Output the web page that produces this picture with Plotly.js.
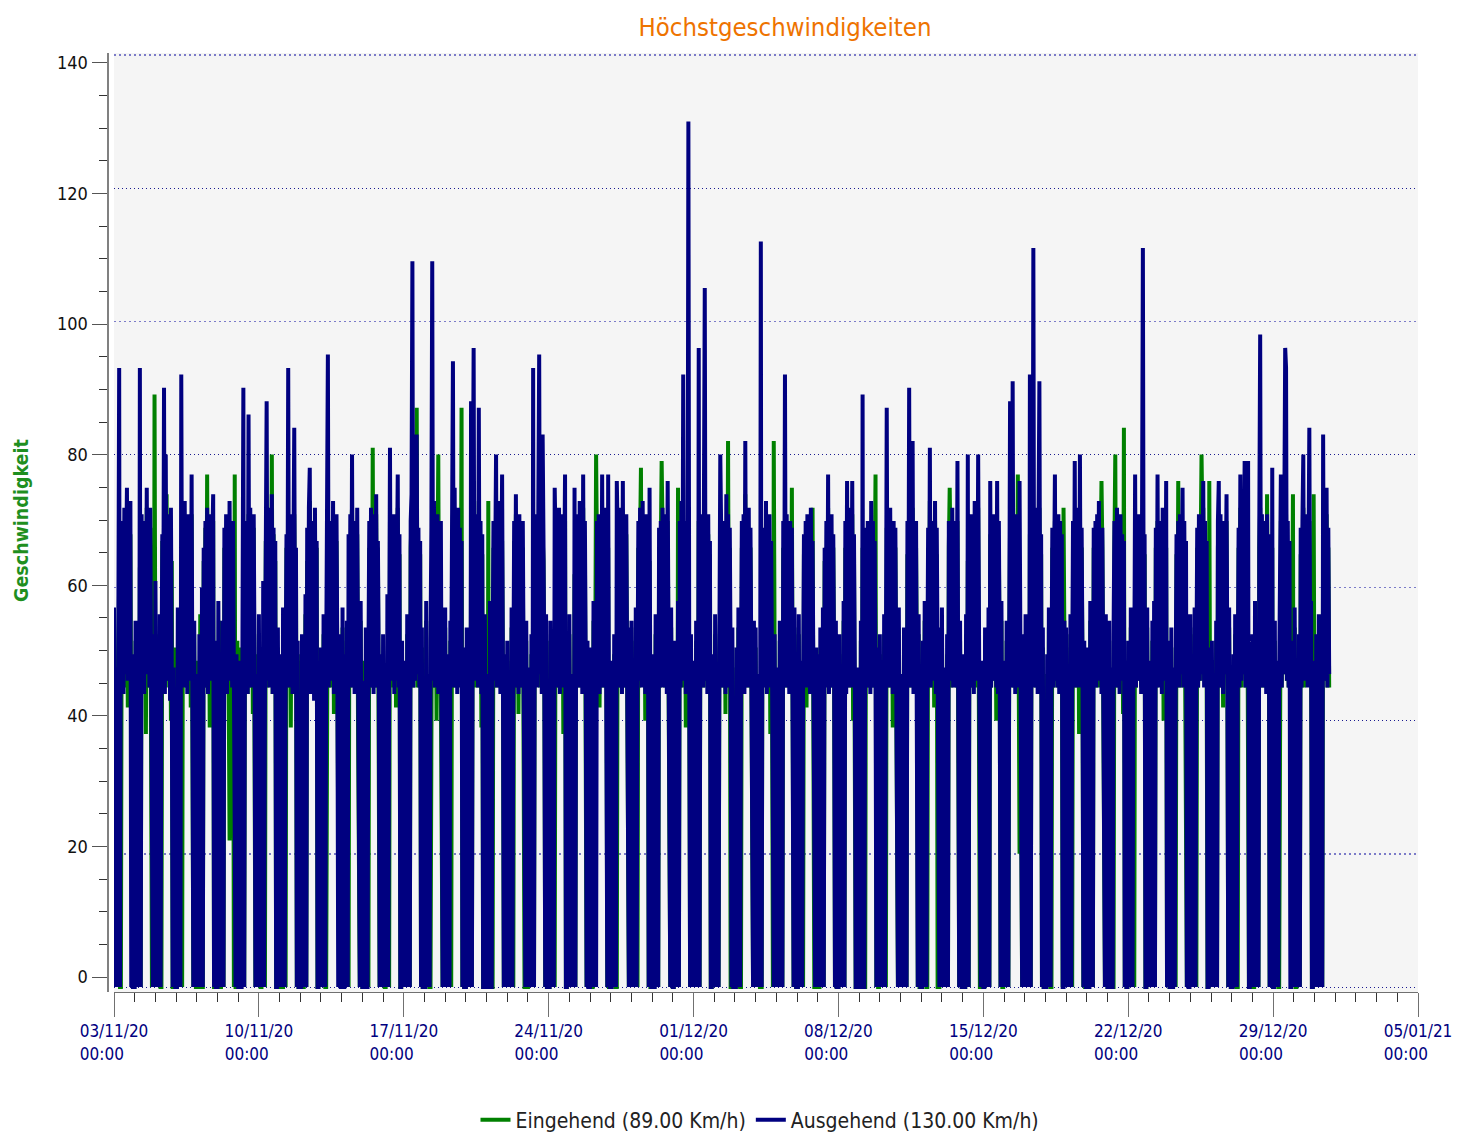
<!DOCTYPE html>
<html><head><meta charset="utf-8">
<script src="https://cdn.plot.ly/plotly-3.0.1.min.js"></script>
<style>html,body{margin:0;padding:0;background:#fff}#chart{width:1459px;height:1133px}</style>
</head><body><div id="chart"></div>
<script>
// Hourly maximum speeds, one row per day starting 03/11/20 00:00 (values in Km/h)
const startDay = '2020-11-03';
const eingehendByDay = [
[55,0,0,46,0,50,61,0,0,66,46,68,45,67,47,70,42,66,46,68,0,0,47,0],
[0,52,0,0,45,0,63,0,66,46,68,47,70,38,72,46,67,45,69,47,0,54,0,89],
[0,0,48,0,53,0,0,0,67,47,70,45,66,74,46,68,45,69,40,64,0,0,51,0],
[50,0,0,55,0,0,65,0,68,46,70,47,66,45,67,46,68,42,71,0,0,53,0,0],
[0,49,0,0,56,0,0,0,64,46,69,45,77,47,66,39,68,46,65,70,0,0,48,0],
[0,0,55,0,0,48,0,0,66,47,68,45,67,46,22,47,66,45,69,0,77,0,0,52],
[0,47,0,51,0,0,63,0,65,46,67,44,71,47,68,45,66,41,69,0,0,50,0,0],
[53,0,0,0,46,0,58,0,67,65,45,67,47,66,46,80,44,68,47,64,0,0,51,0],
[0,0,48,0,0,54,0,0,66,47,68,45,67,39,69,46,66,71,46,65,0,49,0,0],
[0,50,0,0,0,45,56,0,64,46,66,73,45,67,47,68,45,69,46,66,0,0,46,0],
[48,0,0,53,0,0,0,66,70,46,67,45,66,47,70,41,68,47,67,46,0,0,50,0],
[0,54,0,0,47,0,52,0,0,66,45,68,72,46,67,45,66,47,68,38,0,0,55,0],
[0,0,0,49,0,51,0,0,66,46,69,45,81,47,67,45,71,46,66,0,0,47,0,0],
[50,0,0,0,45,0,56,0,70,46,67,45,68,47,66,42,68,72,46,65,0,0,49,0],
[0,46,0,0,53,0,48,0,66,70,66,45,67,46,68,87,45,67,47,65,0,51,0,0],
[0,0,55,0,44,0,0,0,67,72,46,70,45,67,40,69,80,46,66,45,0,0,45,0],
[54,0,0,47,0,0,52,0,66,71,45,72,47,67,45,69,46,66,47,87,0,48,0,0],
[0,51,0,0,46,0,66,0,67,70,46,68,45,66,47,73,45,67,39,65,0,0,53,0],
[0,0,73,0,55,0,0,0,66,46,67,70,45,68,47,70,45,66,67,46,0,47,0,0],
[49,0,0,43,0,54,0,0,67,45,71,47,66,41,68,46,67,45,66,0,0,0,52,0],
[0,45,0,0,50,0,66,0,65,46,68,47,67,71,45,66,46,68,64,47,0,53,0,0],
[0,0,52,0,0,46,0,0,64,45,66,46,68,45,67,47,66,38,64,70,0,0,48,0],
[53,0,0,44,0,0,62,0,66,46,67,45,70,47,66,45,72,46,67,0,0,49,0,0],
[0,48,0,0,55,0,48,80,66,46,68,42,67,47,71,45,65,46,67,47,0,66,0,0],
[0,0,46,0,50,0,0,0,64,45,67,47,69,45,70,46,66,45,68,46,0,0,51,0],
[52,0,0,45,0,54,0,0,66,45,67,78,46,70,47,66,40,68,46,65,0,64,0,0],
[0,47,0,0,53,0,50,0,66,45,66,79,69,46,67,45,65,47,70,46,0,0,54,0],
[0,0,49,0,48,0,75,0,66,46,70,45,66,47,67,39,67,46,72,47,0,50,0,0],
[46,0,0,52,0,0,70,0,65,47,67,45,69,72,46,66,45,68,47,65,0,0,47,0],
[0,53,0,0,45,0,50,66,67,45,67,47,66,41,70,46,82,45,66,0,0,51,0,0],
[0,0,48,0,54,0,0,0,66,46,68,45,74,47,66,45,69,46,66,47,0,0,52,0],
[51,0,0,44,0,0,0,0,66,46,65,47,70,45,67,46,67,38,65,47,0,82,50,0],
[0,45,0,0,52,0,48,0,66,47,70,45,68,46,66,45,66,46,75,45,0,54,0,0],
[0,0,53,0,0,46,0,0,65,46,66,42,67,47,66,45,69,46,72,0,0,0,48,0],
[47,0,0,51,0,0,54,0,64,46,66,47,72,45,67,46,68,45,66,47,0,52,0,0],
[0,50,0,0,44,0,55,0,66,45,70,46,65,45,69,47,71,40,66,0,0,0,45,0],
[0,0,52,0,66,0,0,0,66,45,67,47,66,45,70,45,65,46,66,77,0,48,0,0],
[50,0,0,46,0,53,0,0,69,46,66,45,69,47,66,39,67,46,66,45,0,0,54,0],
[0,44,0,0,51,0,48,0,65,46,70,45,68,47,72,45,66,46,66,47,0,53,0,0],
[0,0,49,0,55,0,0,0,66,46,73,45,67,47,66,42,70,46,65,0,0,0,51,0],
[54,0,0,45,0,0,50,0,66,75,65,45,69,47,66,46,67,45,70,45,0,52,0,0],
[0,47,0,0,53,0,64,0,65,45,68,47,66,45,70,46,66,45,72,0,0,0,46,0],
[0,0,51,0,44,0,54,0,68,45,66,46,68,47,66,40,70,46,66,47,0,55,0,0],
[46,0,0,52,0,0,48,70,66,46,72,45,67,47,66,45,77,45,20,46,0,0,50,0],
[0,53,0,0,45,0,68,0,66,47,70,46,66,45,69,47,66,72,46,65,0,51,0,0],
[0,0,47,0,54,0,0,0,66,45,67,70,46,66,45,68,45,66,47,64,0,72,52,0],
[51,0,0,44,0,53,0,0,65,47,70,45,65,46,69,38,72,46,66,47,0,49,0,0],
[0,48,0,0,55,0,46,0,66,45,67,46,66,45,70,47,65,76,66,45,0,0,53,0],
[0,0,52,0,45,0,0,0,66,80,45,69,47,66,45,68,46,66,41,84,0,46,0,0],
[49,0,0,54,0,0,47,0,70,45,65,46,68,47,66,45,66,72,46,65,0,0,54,0],
[0,46,0,0,52,0,55,0,66,45,70,46,67,47,66,45,69,40,65,47,66,0,49,0],
[0,0,51,0,0,45,0,0,65,46,76,45,68,45,66,70,46,66,47,0,0,53,0,0],
[53,0,0,46,0,54,0,0,66,45,66,46,66,80,70,72,46,66,47,45,0,0,76,0],
[0,49,0,0,44,0,52,0,66,71,46,68,45,66,42,67,47,66,70,46,0,54,0,0],
[0,0,47,0,53,0,0,0,66,46,72,45,65,47,69,74,45,72,64,15,0,0,45,0],
[50,0,0,55,0,0,48,0,66,72,46,67,45,65,47,66,45,74,46,65,0,51,0,66],
[0,0,52,0,46,0,0,0,66,70,45,67,47,66,73,71,46,66,45,64,0,0,49,74],
[0,54,0,0,45,0,50,0,65,46,65,72,45,68,47,66,46,66,70,47,55,0,0,74],
[0,0,50,0,0,53,0,0,44,0,70,46,66,47,71,45,66,45]
];
const ausgehendByDay = [
[57,0,48,0,0,52,93,0,70,45,68,44,72,47,66,75,46,70,48,73,0,50,0,0],
[0,55,0,47,0,0,93,0,71,46,67,44,70,48,75,47,69,45,72,49,0,0,53,0],
[61,0,0,49,0,56,0,45,68,47,90,44,80,48,71,46,69,43,72,47,0,48,0,0],
[0,0,57,0,50,0,92,48,70,45,73,46,67,44,71,47,69,46,77,49,0,55,0,0],
[47,0,0,53,0,0,60,0,66,45,70,47,72,44,68,46,71,48,67,74,0,52,0,0],
[0,58,0,0,46,0,55,0,69,47,71,44,66,46,73,48,68,45,70,47,0,0,50,0],
[0,0,49,0,0,54,90,0,67,46,70,44,86,47,72,45,68,46,71,48,0,47,0,0],
[56,0,0,48,0,61,0,44,70,88,46,72,45,68,47,74,44,69,48,67,0,0,54,0],
[0,50,0,0,57,0,0,46,68,47,93,45,71,46,70,44,69,84,47,66,0,52,0,0],
[0,0,53,0,47,0,59,0,69,45,72,78,44,70,47,68,43,72,46,67,0,0,49,0],
[51,0,0,56,0,0,48,87,95,45,70,46,69,47,73,44,68,46,71,48,0,53,0,0],
[0,57,0,0,50,0,55,0,68,46,71,45,80,47,67,44,70,45,72,48,0,0,58,0],
[0,0,46,0,54,0,0,49,70,45,72,47,68,44,71,46,74,45,67,48,0,50,0,0],
[53,0,0,48,0,59,0,45,81,46,69,47,71,44,70,46,68,77,45,68,0,0,52,0],
[0,49,0,0,56,0,51,0,70,74,109,45,70,46,68,83,47,69,45,67,0,54,0,0],
[0,0,58,0,47,0,0,52,69,109,46,73,45,70,47,71,44,68,46,70,0,0,48,0],
[57,0,0,50,0,0,55,46,70,94,45,75,46,68,44,72,45,69,47,67,0,51,0,0],
[0,54,0,0,49,0,88,0,68,96,46,71,47,69,45,87,46,70,44,68,0,0,56,0],
[0,0,47,0,58,0,0,49,70,46,72,80,45,69,47,73,44,68,77,47,0,50,0,0],
[52,0,0,46,0,57,0,44,70,45,74,47,69,44,71,46,68,45,70,47,0,0,55,0],
[0,48,0,0,53,0,93,0,68,46,71,45,72,95,47,69,44,83,67,46,0,56,0,0],
[0,0,55,0,0,49,0,75,67,45,70,46,72,44,68,47,71,45,66,77,0,0,51,0],
[56,0,0,47,0,0,75,0,69,46,71,45,73,47,68,44,77,46,70,48,0,52,0,0],
[0,51,0,0,58,0,46,0,70,46,71,44,68,47,77,45,69,46,72,47,0,77,0,0],
[0,0,49,0,53,0,0,76,68,45,70,47,72,44,76,46,69,45,71,47,0,0,54,0],
[55,0,0,48,0,57,0,45,70,46,72,66,45,73,47,69,44,71,46,68,0,75,0,0],
[0,50,0,0,56,0,48,0,69,45,70,47,72,45,68,46,71,44,76,48,0,0,57,0],
[0,0,52,0,46,0,58,0,70,45,73,47,92,46,69,44,70,47,130,48,0,53,0,0],
[49,0,0,55,0,0,96,0,68,47,71,45,72,105,46,70,44,71,47,67,0,0,50,0],
[0,56,0,0,48,0,53,80,69,45,70,46,68,44,74,47,71,45,69,48,0,54,0,0],
[0,0,51,0,57,0,0,46,70,45,71,44,82,47,68,45,72,46,69,48,0,0,55,0],
[54,0,0,47,0,16,112,0,69,45,68,47,73,44,70,46,71,45,67,48,0,0,53,0],
[0,48,0,0,55,0,51,0,70,46,92,45,71,47,68,44,70,46,69,45,0,57,0,0],
[0,0,56,0,0,49,0,44,68,46,70,45,71,47,69,44,72,46,67,46,0,0,51,0],
[50,0,0,54,0,0,57,0,66,45,70,47,77,44,69,46,71,45,68,48,0,55,0,0],
[0,53,0,0,47,0,58,0,70,44,76,46,69,45,72,47,76,45,68,47,0,0,48,0],
[0,0,55,0,89,0,0,50,69,45,70,46,68,44,73,45,70,47,67,48,0,51,0,0],
[53,0,0,49,0,56,0,47,87,46,69,45,72,47,68,44,70,47,69,46,0,0,57,0],
[0,47,0,0,54,0,51,0,70,46,90,45,71,48,82,44,69,46,70,47,0,56,0,0],
[0,0,52,0,58,0,0,45,69,46,81,45,70,47,68,46,73,44,69,48,0,0,54,0],
[57,0,0,48,0,0,53,0,70,46,69,47,72,45,68,46,70,45,79,46,0,55,0,0],
[0,50,0,0,56,0,80,0,68,47,71,45,69,44,73,46,70,46,80,47,0,0,49,0],
[0,0,54,0,47,0,57,0,76,45,69,46,71,47,68,45,76,44,70,47,0,58,0,0],
[49,0,0,55,0,0,51,88,69,45,91,47,70,44,71,46,68,45,76,48,0,0,53,0],
[0,56,0,0,48,0,92,0,70,47,111,45,69,46,72,44,70,91,47,68,0,54,0,0],
[0,0,50,0,57,0,0,46,69,45,70,77,46,68,45,71,44,70,47,68,0,0,55,0],
[54,0,0,47,0,56,0,45,70,46,79,45,68,47,72,45,80,46,69,48,0,52,0,0],
[0,51,0,0,58,0,49,0,69,46,70,45,71,46,73,47,68,44,69,46,0,0,56,0],
[0,0,55,0,48,0,0,53,70,69,45,72,46,70,44,71,46,68,47,67,0,49,0,0],
[52,0,0,57,0,0,50,46,77,45,68,46,71,47,70,44,69,111,46,68,0,0,57,0],
[0,49,0,0,55,0,58,0,69,46,77,45,70,47,68,44,72,46,69,47,76,0,52,0],
[0,0,54,0,0,48,0,45,68,46,70,45,71,47,69,75,45,70,46,67,0,56,0,0],
[56,0,0,49,0,57,0,46,69,45,71,46,68,47,73,76,45,70,46,67,0,0,51,0],
[0,52,0,0,47,0,55,0,70,76,45,71,46,69,44,70,47,68,74,46,0,57,0,0],
[0,0,50,0,56,0,0,47,69,45,77,46,71,47,72,79,45,79,67,79,0,0,48,0],
[53,0,0,58,0,0,51,0,70,98,46,71,45,69,47,70,44,71,46,68,0,54,0,78],
[0,0,55,0,49,0,0,46,68,77,45,70,47,69,96,93,46,70,45,67,0,0,52,0],
[0,57,0,0,48,0,53,0,69,45,70,80,46,71,47,68,45,70,84,47,58,0,0,49],
[0,0,53,0,0,56,0,0,47,0,83,46,70,47,75,45,69,47]
];
const seriesNames = ['Eingehend (89.00 Km/h)', 'Ausgehend (130.00 Km/h)'];
const seriesColors = ['#008000', '#000080'];
const tickDates = ['2020-11-03','2020-11-10','2020-11-17','2020-11-24','2020-12-01','2020-12-08','2020-12-15','2020-12-22','2020-12-29','2021-01-05'];
const PAD = '\u00A0\u00A0\u00A0\u00A0\u00A0';
const tickLabels = ['03/11/20','10/11/20','17/11/20','24/11/20','01/12/20','08/12/20','15/12/20','22/12/20','29/12/20','05/01/21'].map(d => d + '<br>00:00' + PAD);
const yTickVals = [0,20,40,60,80,100,120,140];

function fmt(ms){ return new Date(ms).toISOString().slice(0,16).replace('T',' '); }
function flatten(byDay){
  const t0 = Date.parse(startDay + 'T00:00:00Z');
  const xs = [], ys = [];
  byDay.forEach((row, d) => row.forEach((v, h) => { xs.push(fmt(t0 + (d*24 + h)*3600000)); ys.push(v); }));
  return {xs, ys};
}
const gIn = flatten(eingehendByDay);
const gOut = flatten(ausgehendByDay);

const FONT = 'DejaVu Sans Condensed, DejaVu Sans, Liberation Sans, sans-serif';
const W = 1459, H = 1133, ML = 100, MR = 41, MT = 53, MB = 141;
const pw = W - ML - MR;
const traces = [
  {x: gIn.xs, y: gIn.ys, type: 'scatter', mode: 'lines', name: seriesNames[0],
   line: {color: seriesColors[0], width: 4}, hoverinfo: 'skip'},
  {x: gOut.xs, y: gOut.ys, type: 'scatter', mode: 'lines', name: seriesNames[1],
   line: {color: seriesColors[1], width: 4}, hoverinfo: 'skip'},
  {x: [gIn.xs[0]], y: [null], yaxis: 'y2', showlegend: false, hoverinfo: 'skip', mode: 'lines'},
  {x: [gIn.xs[0]], y: [null], yaxis: 'y3', showlegend: false, hoverinfo: 'skip', mode: 'lines'}
];
const layout = {
  width: W, height: H,
  margin: {l: ML, r: MR, t: MT, b: MB, pad: 0},
  paper_bgcolor: '#ffffff', plot_bgcolor: '#f5f5f5',
  font: {family: FONT, size: 17, color: '#111'},
  title: {text: 'Höchstgeschwindigkeiten', font: {family: FONT, size: 25.5, color: '#EE7300'},
          xref: 'container', x: 785/W, xanchor: 'center', yref: 'container', y: 1 - 27/H, yanchor: 'middle'},
  showlegend: true,
  legend: {orientation: 'h', xref: 'container', x: 760/W, xanchor: 'center', yref: 'container', y: 1 - 1120/H, yanchor: 'middle',
           font: {family: FONT, size: 21, color: '#222'}, bgcolor: 'rgba(0,0,0,0)', itemwidth: 30},
  xaxis: {type: 'date', domain: [(114-ML)/pw, 1], range: ['2020-11-03 00:00', '2021-01-05 00:00'],
          tickmode: 'array', tickvals: tickDates, ticktext: tickLabels,
          ticks: 'outside', ticklen: 24, tickcolor: '#707070', tickwidth: 1,
          showline: true, linecolor: '#707070', linewidth: 1, showgrid: false, zeroline: false,
          tickfont: {family: FONT, size: 17, color: '#000080'},
          minor: {tickmode: 'linear', tick0: '2020-11-03', dtick: 86400000, ticklen: 9, tickcolor: '#333', tickwidth: 1, showgrid: false}},
  yaxis: {range: [-0.75, 140.3], domain: [0, 1], tickmode: 'linear', tick0: 0, dtick: 40,
          showticklabels: false, ticks: '', showline: false, zeroline: false,
          showgrid: true, gridcolor: '#1a1a90', griddash: '1px,3px', gridwidth: 1},
  yaxis3: {range: [-0.75, 140.3], overlaying: 'y', tickmode: 'linear', tick0: 20, dtick: 40,
           showticklabels: false, ticks: '', showline: false, zeroline: false,
           showgrid: true, gridcolor: '#7b7bc8', griddash: '2px,3px', gridwidth: 1.5},
  yaxis2: {range: [-2.297, 141.53], overlaying: 'y', anchor: 'free', position: (107.5-ML)/pw, side: 'left',
           tickmode: 'array', tickvals: yTickVals, ticks: 'outside', ticklen: 15, tickcolor: '#555', tickwidth: 1,
           showline: true, linecolor: '#808080', linewidth: 2, showgrid: false, zeroline: false,
           tickfont: {family: FONT, size: 18, color: '#111'},
           minor: {tickmode: 'linear', tick0: 0, dtick: 5, ticklen: 8, tickcolor: '#333', tickwidth: 1, showgrid: false}},
  annotations: [{text: '<b>Geschwindigkeit</b>', textangle: -90, xref: 'paper', yref: 'paper',
                 x: (21-ML)/pw, y: (1133-MB-521)/(H-MT-MB), xanchor: 'center', yanchor: 'middle', showarrow: false,
                 font: {family: FONT, size: 19.5, color: '#1f8f1f'}}]
};
Plotly.newPlot('chart', traces, layout, {displayModeBar: false, staticPlot: true});
</script>
</body></html>
